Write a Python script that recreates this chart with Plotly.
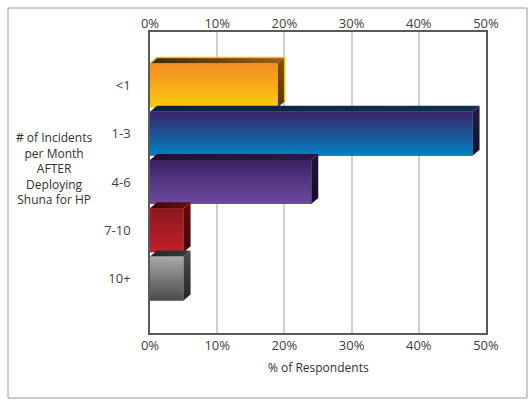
import plotly.graph_objects as go

# Survey results: incidents per month after deploying Shuna for HP
categories = ["<1", "1-3", "4-6", "7-10", "10+"]
percent = [19, 48, 24, 5, 5]

# front-face gradient (top colour, bottom colour), top-face and side-face colours
face_colors = [
    ("#F38C24", "#FCCB0C"),
    ("#3B2468", "#0082C2"),
    ("#3A2264", "#6E4AA0"),
    ("#8A1A1E", "#C41E2C"),
    ("#A8A9AB", "#4A4B4D"),
]
top_colors = [("#3A2A06", "#A25E12"), ("#0B2340", "#10304E"), ("#1E1230", "#2A1A42"),
              ("#3E0608", "#6A0C10"), ("#262626", "#3A3A3A")]
side_colors = [("#8A4E12", "#5C3208"), ("#221C44", "#14122A"), ("#20163A", "#140C24"),
               ("#6A0C10", "#3E0406"), ("#4A4B4D", "#262626")]
edge_colors = ["#F2C200", None, None, None, None]

BAR_W = 0.912          # bar thickness in category units
DX, DY = 1.04, 0.125   # 3-D depth offset (x in %, y in category units)

ypos = list(range(len(categories)))
fig = go.Figure()

# plain bars carry the values and hover info
fig.add_trace(go.Bar(
    x=percent, y=ypos, orientation="h", width=BAR_W,
    marker=dict(color=[c[1] for c in face_colors], line=dict(width=0)),
    hovertemplate="%{x}%<extra></extra>", showlegend=False,
))

for i, (v, y) in enumerate(zip(percent, ypos)):
    top, bot = y - BAR_W / 2, y + BAR_W / 2
    # top face
    fig.add_trace(go.Scatter(
        x=[0, v, v + DX, DX, 0], y=[top, top, top - DY, top - DY, top],
        mode="lines", fill="toself", line=dict(width=0),
        fillgradient=dict(type="horizontal", start=0, stop=v + DX,
                          colorscale=[[0, top_colors[i][0]], [1, top_colors[i][1]]]),
        hoverinfo="skip", showlegend=False,
    ))
    # side face
    fig.add_trace(go.Scatter(
        x=[v, v + DX, v + DX, v, v], y=[top, top - DY, bot - DY, bot, top],
        mode="lines", fill="toself", line=dict(width=0),
        fillgradient=dict(type="vertical", start=top - DY, stop=bot,
                          colorscale=[[0, side_colors[i][0]], [1, side_colors[i][1]]]),
        hoverinfo="skip", showlegend=False,
    ))
    # front face with vertical gradient
    fig.add_trace(go.Scatter(
        x=[0, v, v, 0, 0], y=[top, top, bot, bot, top],
        mode="lines", fill="toself", line=dict(width=0),
        fillgradient=dict(type="vertical", start=top, stop=bot,
                          colorscale=[[0, face_colors[i][0]], [1, face_colors[i][1]]]),
        hoverinfo="skip", showlegend=False,
    ))
    if edge_colors[i]:
        fig.add_trace(go.Scatter(
            x=[0, DX, v + DX, v + DX], y=[top, top - DY, top - DY, bot - DY],
            mode="lines", line=dict(color=edge_colors[i], width=1.5),
            hoverinfo="skip", showlegend=False,
        ))

tick_vals = [0, 10, 20, 30, 40, 50]
tick_text = [f"{t}%" for t in tick_vals]
font = dict(family="Open Sans", size=13, color="#404040")

fig.update_layout(
    width=530, height=400,
    margin=dict(l=150, r=44, t=32, b=67),
    paper_bgcolor="white", plot_bgcolor="white",
    showlegend=False,
    xaxis=dict(range=[0, 50], tickvals=tick_vals, ticktext=tick_text,
               showgrid=True, gridcolor="#CFCFCF", gridwidth=2,
               zeroline=False, showline=True, linecolor="#5A5A5A", linewidth=1.5,
               mirror=True, tickfont=font, fixedrange=True),
    xaxis2=dict(range=[0, 50], tickvals=tick_vals, ticktext=tick_text,
                overlaying="x", side="top", showgrid=False, zeroline=False,
                showline=False, tickfont=font, fixedrange=True),
    yaxis=dict(range=[5.13, -1.109], tickvals=ypos, ticktext=categories,
               showgrid=False, zeroline=False, showline=True, linecolor="#5A5A5A",
               linewidth=1.5, mirror=True, tickfont=font, ticklabelstandoff=15,
               fixedrange=True),
    annotations=[
        dict(text="% of Respondents", xref="paper", yref="paper", x=0.5, y=-0.113,
             xanchor="center", yanchor="middle", showarrow=False,
             font=dict(family="Open Sans", size=12, color="#303030")),
        dict(text="# of Incidents<br>per Month<br>AFTER<br>Deploying<br>Shuna for HP",
             xref="paper", yref="paper", x=-0.2857, y=0.545, xanchor="center",
             yanchor="middle", align="center", showarrow=False,
             font=dict(family="Open Sans", size=12, color="#303030")),
    ],
    shapes=[dict(type="rect", xref="paper", yref="paper",
                 x0=-0.4226, x1=1.122, y0=-0.216, y1=1.0797,
                 line=dict(color="#9A9A9A", width=1), layer="below")],
)
# an invisible trace anchors the top axis
fig.add_trace(go.Scatter(x=[0, 50], y=[0, 0], xaxis="x2", mode="markers",
                         marker=dict(opacity=0), hoverinfo="skip", showlegend=False))

fig.write_html("out.html")
